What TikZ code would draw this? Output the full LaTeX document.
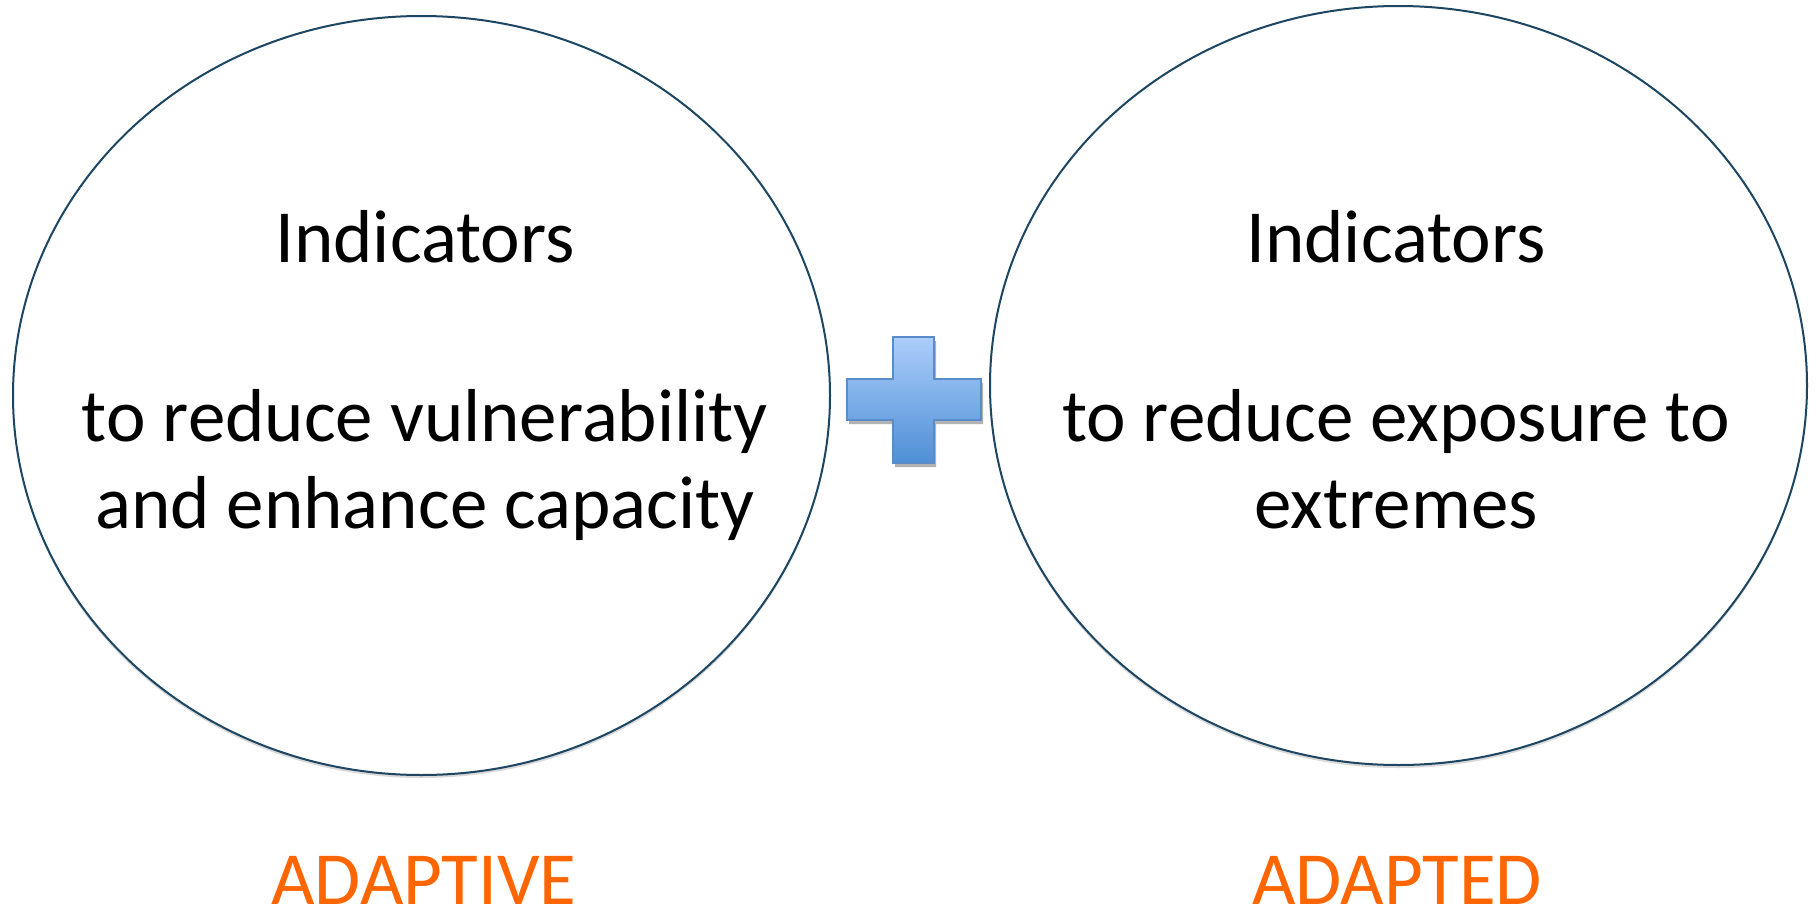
\documentclass[tikz,border=0pt]{standalone}
\usepackage{fontspec}
\setmainfont{Carlito}
\usetikzlibrary{shapes.geometric,shadows}
\definecolor{rim}{RGB}{28,70,98}
\definecolor{orangetxt}{RGB}{255,102,0}
\definecolor{plustop}{RGB}{172,206,250}
\definecolor{plusbot}{RGB}{78,143,214}
\definecolor{plusrim}{RGB}{92,140,200}
\tikzset{
  oval/.style={ellipse, draw=rim, line width=2pt, fill=white, inner sep=0pt,
    minimum width=817pt, minimum height=759pt,
    drop shadow={shadow xshift=0pt, shadow yshift=-3pt, opacity=0.15, fill=black}},
  txt/.style={anchor=base, inner sep=0pt, font=\fontsize{75}{88}\selectfont, text=black},
  lbl/.style={txt, text=orangetxt},
  plusshape/.style={draw=plusrim, line width=1.5pt, top color=plustop, bottom color=plusbot,
    drop shadow={shadow xshift=2pt, shadow yshift=-4pt, opacity=0.3, fill=black}}
}
\begin{document}
\begin{tikzpicture}[x=1pt,y=-1pt]
\useasboundingbox (0,0) rectangle (1816,910);
\fill[white] (0,0) rectangle (1816,910);
% ellipses
\node[oval] (left) at (421.5,395.5) {};
\node[oval] (right) at (1398.5,385.5) {};
% plus sign
\path[plusshape] (893,337) -- (934,337) -- (934,379) -- (981,379) -- (981,420) -- (934,420)
  -- (934,463) -- (893,463) -- (893,420) -- (847,420) -- (847,379) -- (893,379) -- cycle;
% left text
\node[txt] (l1) at (425,262) {Indicators};
\node[txt] (l2) at (425,441) {to reduce vulnerability};
\node[txt] (l3) at (425,528) {and enhance capacity};
\node[lbl] (l4) at (424,904) {ADAPTIVE};
% right text
\node[txt] (r1) at (1396,262) {Indicators};
\node[txt] (r2) at (1396,441) {to reduce exposure to};
\node[txt] (r3) at (1396,528) {extremes};
\node[lbl] (r4) at (1397,904) {ADAPTED};
\end{tikzpicture}
\end{document}
